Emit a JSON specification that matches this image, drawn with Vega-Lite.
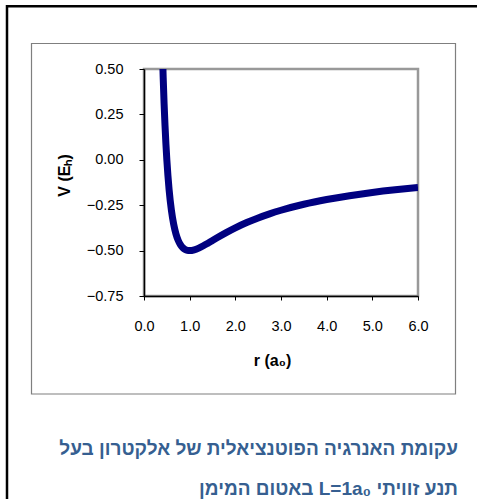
{
  "$schema": "https://vega.github.io/schema/vega-lite/v6.json",
  "width": 274,
  "height": 227,
  "autosize": {"type": "none"},
  "padding": {"left": 144, "top": 69, "right": 59, "bottom": 203},
  "background": "white",
  "view": {"stroke": "#999999", "strokeWidth": 2.5},
  "data": {
    "values": [
      {"r": 0.40, "V": 0.625},
      {"r": 0.42, "V": 0.4535},
      {"r": 0.44, "V": 0.3099},
      {"r": 0.46, "V": 0.1890},
      {"r": 0.48, "V": 0.0868},
      {"r": 0.50, "V": 0.0},
      {"r": 0.55, "V": -0.1653},
      {"r": 0.60, "V": -0.2778},
      {"r": 0.65, "V": -0.3550},
      {"r": 0.70, "V": -0.4082},
      {"r": 0.75, "V": -0.4444},
      {"r": 0.80, "V": -0.4688},
      {"r": 0.85, "V": -0.4844},
      {"r": 0.90, "V": -0.4938},
      {"r": 0.95, "V": -0.4986},
      {"r": 1.00, "V": -0.5},
      {"r": 1.10, "V": -0.4959},
      {"r": 1.20, "V": -0.4861},
      {"r": 1.30, "V": -0.4734},
      {"r": 1.40, "V": -0.4592},
      {"r": 1.50, "V": -0.4444},
      {"r": 1.60, "V": -0.4297},
      {"r": 1.80, "V": -0.4012},
      {"r": 2.00, "V": -0.375},
      {"r": 2.25, "V": -0.3457},
      {"r": 2.50, "V": -0.32},
      {"r": 2.75, "V": -0.2975},
      {"r": 3.00, "V": -0.2778},
      {"r": 3.50, "V": -0.2449},
      {"r": 4.00, "V": -0.2188},
      {"r": 4.50, "V": -0.1975},
      {"r": 5.00, "V": -0.18},
      {"r": 5.50, "V": -0.1653},
      {"r": 6.00, "V": -0.1528}
    ]
  },
  "layer": [
    {
      "data": {"values": [{}]},
      "mark": {"type": "rect", "fillOpacity": 0, "stroke": "#000000", "strokeWidth": 2.5, "clip": false},
      "encoding": {
        "x": {"datum": -3.0, "type": "quantitative"},
        "x2": {"datum": 8.0},
        "y": {"datum": 0.845, "type": "quantitative"},
        "y2": {"datum": -2.0}
      }
    },
    {
      "data": {"values": [{}]},
      "mark": {"type": "rect", "fillOpacity": 0, "stroke": "#7f7f7f", "strokeWidth": 1.2, "clip": false},
      "encoding": {
        "x": {"datum": -2.4635, "type": "quantitative"},
        "x2": {"datum": 6.8212},
        "y": {"datum": 0.6404, "type": "quantitative"},
        "y2": {"datum": -1.2896}
      }
    },
    {
      "data": {"values": [{"caption": ["עקומת האנרגיה הפוטנציאלית של אלקטרון בעל", "\u202Bתנע זוויתי L=1a₀ באטום המימן\u202C"]}]},
      "mark": {
        "type": "text",
        "align": "right",
        "baseline": "alphabetic",
        "lineHeight": 40,
        "font": "Liberation Sans",
        "fontSize": 19,
        "fontWeight": "bold",
        "color": "#365F91",
        "clip": false
      },
      "encoding": {
        "x": {"datum": 6.876, "type": "quantitative"},
        "y": {"datum": -1.6256, "type": "quantitative"},
        "text": {"field": "caption"}
      }
    },
    {
      "mark": {"type": "line", "color": "#000080", "strokeWidth": 7, "interpolate": "monotone", "clip": true},
      "encoding": {
        "x": {
          "field": "r",
          "type": "quantitative",
          "scale": {"domain": [0, 6], "nice": false, "zero": false},
          "axis": {
            "title": "r (a₀)",
            "values": [0, 0.5, 1, 1.5, 2, 2.5, 3, 3.5, 4, 4.5, 5, 5.5, 6],
            "labelExpr": "datum.value % 1 === 0 ? format(datum.value, '.1f') : ''",
            "grid": false,
            "domainColor": "#000000",
            "domainWidth": 1.5,
            "tickColor": "#000000",
            "tickSize": 4,
            "labelPadding": 19,
            "labelFont": "Liberation Sans",
            "labelFontSize": 14.5,
            "labelColor": "#000000",
            "labelFlush": false,
            "labelOverlap": false,
            "titleFont": "Liberation Sans",
            "titleFontSize": 16,
            "titleFontWeight": "bold",
            "titleColor": "#000000",
            "titlePadding": 20,
            "titleX": 128
          }
        },
        "y": {
          "field": "V",
          "type": "quantitative",
          "scale": {"domain": [-0.75, 0.5], "nice": false, "zero": false},
          "axis": {
            "title": "V (Eₕ)",
            "values": [-0.75, -0.5, -0.25, 0, 0.25, 0.5],
            "format": ".2f",
            "grid": false,
            "domainColor": "#000000",
            "domainWidth": 1.5,
            "tickColor": "#000000",
            "tickSize": 5,
            "labelPadding": 16,
            "labelFont": "Liberation Sans",
            "labelFontSize": 14.5,
            "labelColor": "#000000",
            "labelFlush": false,
            "labelOverlap": false,
            "titleFont": "Liberation Sans",
            "titleFontSize": 16,
            "titleFontWeight": "bold",
            "titleColor": "#000000",
            "titlePadding": 14,
            "titleY": 106
          }
        }
      }
    }
  ]
}
